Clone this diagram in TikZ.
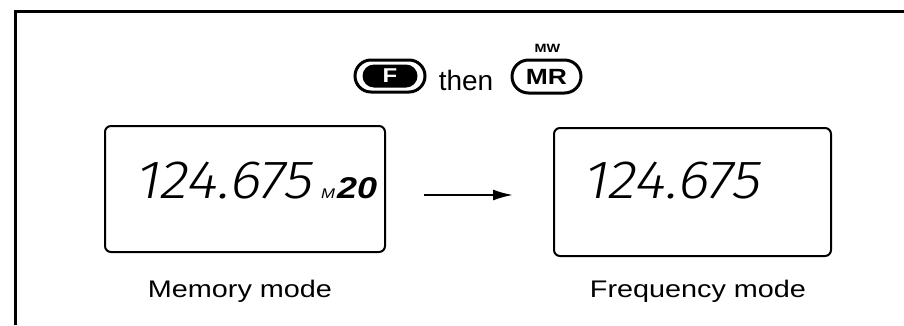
\documentclass[tikz,border=0pt]{standalone}
\usepackage{fontspec}
\setmainfont{Liberation Sans}[FakeStretch=1.2]
\newfontfamily\plainfont{Liberation Sans}
\newfontfamily\lcdfont{Fira Sans Light}[FakeSlant=0.18,FakeStretch=1.1]
\usetikzlibrary{shapes.misc,arrows.meta}
\begin{document}
\begin{tikzpicture}[x=1pt,y=-1pt,
  frameline/.style={line width=3pt},
  pillout/.style={draw, rounded rectangle, line width=3pt, minimum width=70pt, minimum height=32pt, inner sep=0pt},
  pillin/.style={fill=black, rounded rectangle, minimum width=55pt, minimum height=23pt, inner sep=0pt, text=white, font=\bfseries\fontsize{20}{20}\selectfont},
  btntext/.style={font=\bfseries\fontsize{22}{22}\selectfont, inner sep=0pt},
  lcd/.style={draw, line width=2pt, rounded corners=6pt, inner sep=0pt},
  digits/.style={font=\lcdfont\fontsize{54}{54}\selectfont, inner sep=0pt},
  lbl/.style={font=\fontsize{24}{24}\selectfont, inner sep=0pt, anchor=base},
  arr/.style={line width=2pt, -{Latex[length=20pt,width=11pt]}}
]
\useasboundingbox (0,0) rectangle (904,325);
% outer frame
\coordinate (fbl) at (15,325);
\coordinate (ftl) at (15,11);
\coordinate (ftr) at (904,11);
\draw[frameline] (fbl) -- (ftl) -- (ftr);
% buttons
\node[pillout] (Fout) at (390,76) {};
\node[pillin] (Fin) at (Fout.center) {F};
\node[lbl, font=\plainfont\fontsize{28}{28}\selectfont] (then) at (466,90) {then};
\node[pillout, minimum width=69pt, minimum height=33pt] (MRout) at (546.5,76.5) {};
\node[btntext] (MR) at (MRout.center) {MR};
\node[lbl, font=\bfseries\fontsize{12}{12}\selectfont] (MW) at (547.5,52) {MW};
% LCD panels
\node[lcd, minimum width=280pt, minimum height=126pt] (memlcd) at (245,189) {};
\node[lcd, minimum width=277pt, minimum height=128pt] (freqlcd) at (692.5,192) {};
\node[digits, anchor=base west] (memnum) at (134,198) {124.675};
\node[font=\itshape\fontsize{14}{14}\selectfont, inner sep=0pt, anchor=base west] (memM) at (321,198) {M};
\node[font=\bfseries\itshape\fontsize{30}{30}\selectfont, inner sep=0pt, anchor=base west] (mem20) at (337,198) {20};
\node[digits, anchor=base west] (freqnum) at (582,198) {124.675};
% arrow
\coordinate (a1) at (424,195);
\coordinate (a2) at (513,195);
\draw[arr] (a1) -- (a2);
% labels
\node[lbl] (memlbl) at (240,297) {Memory mode};
\node[lbl] (freqlbl) at (698,297) {Frequency mode};
\end{tikzpicture}
\end{document}
